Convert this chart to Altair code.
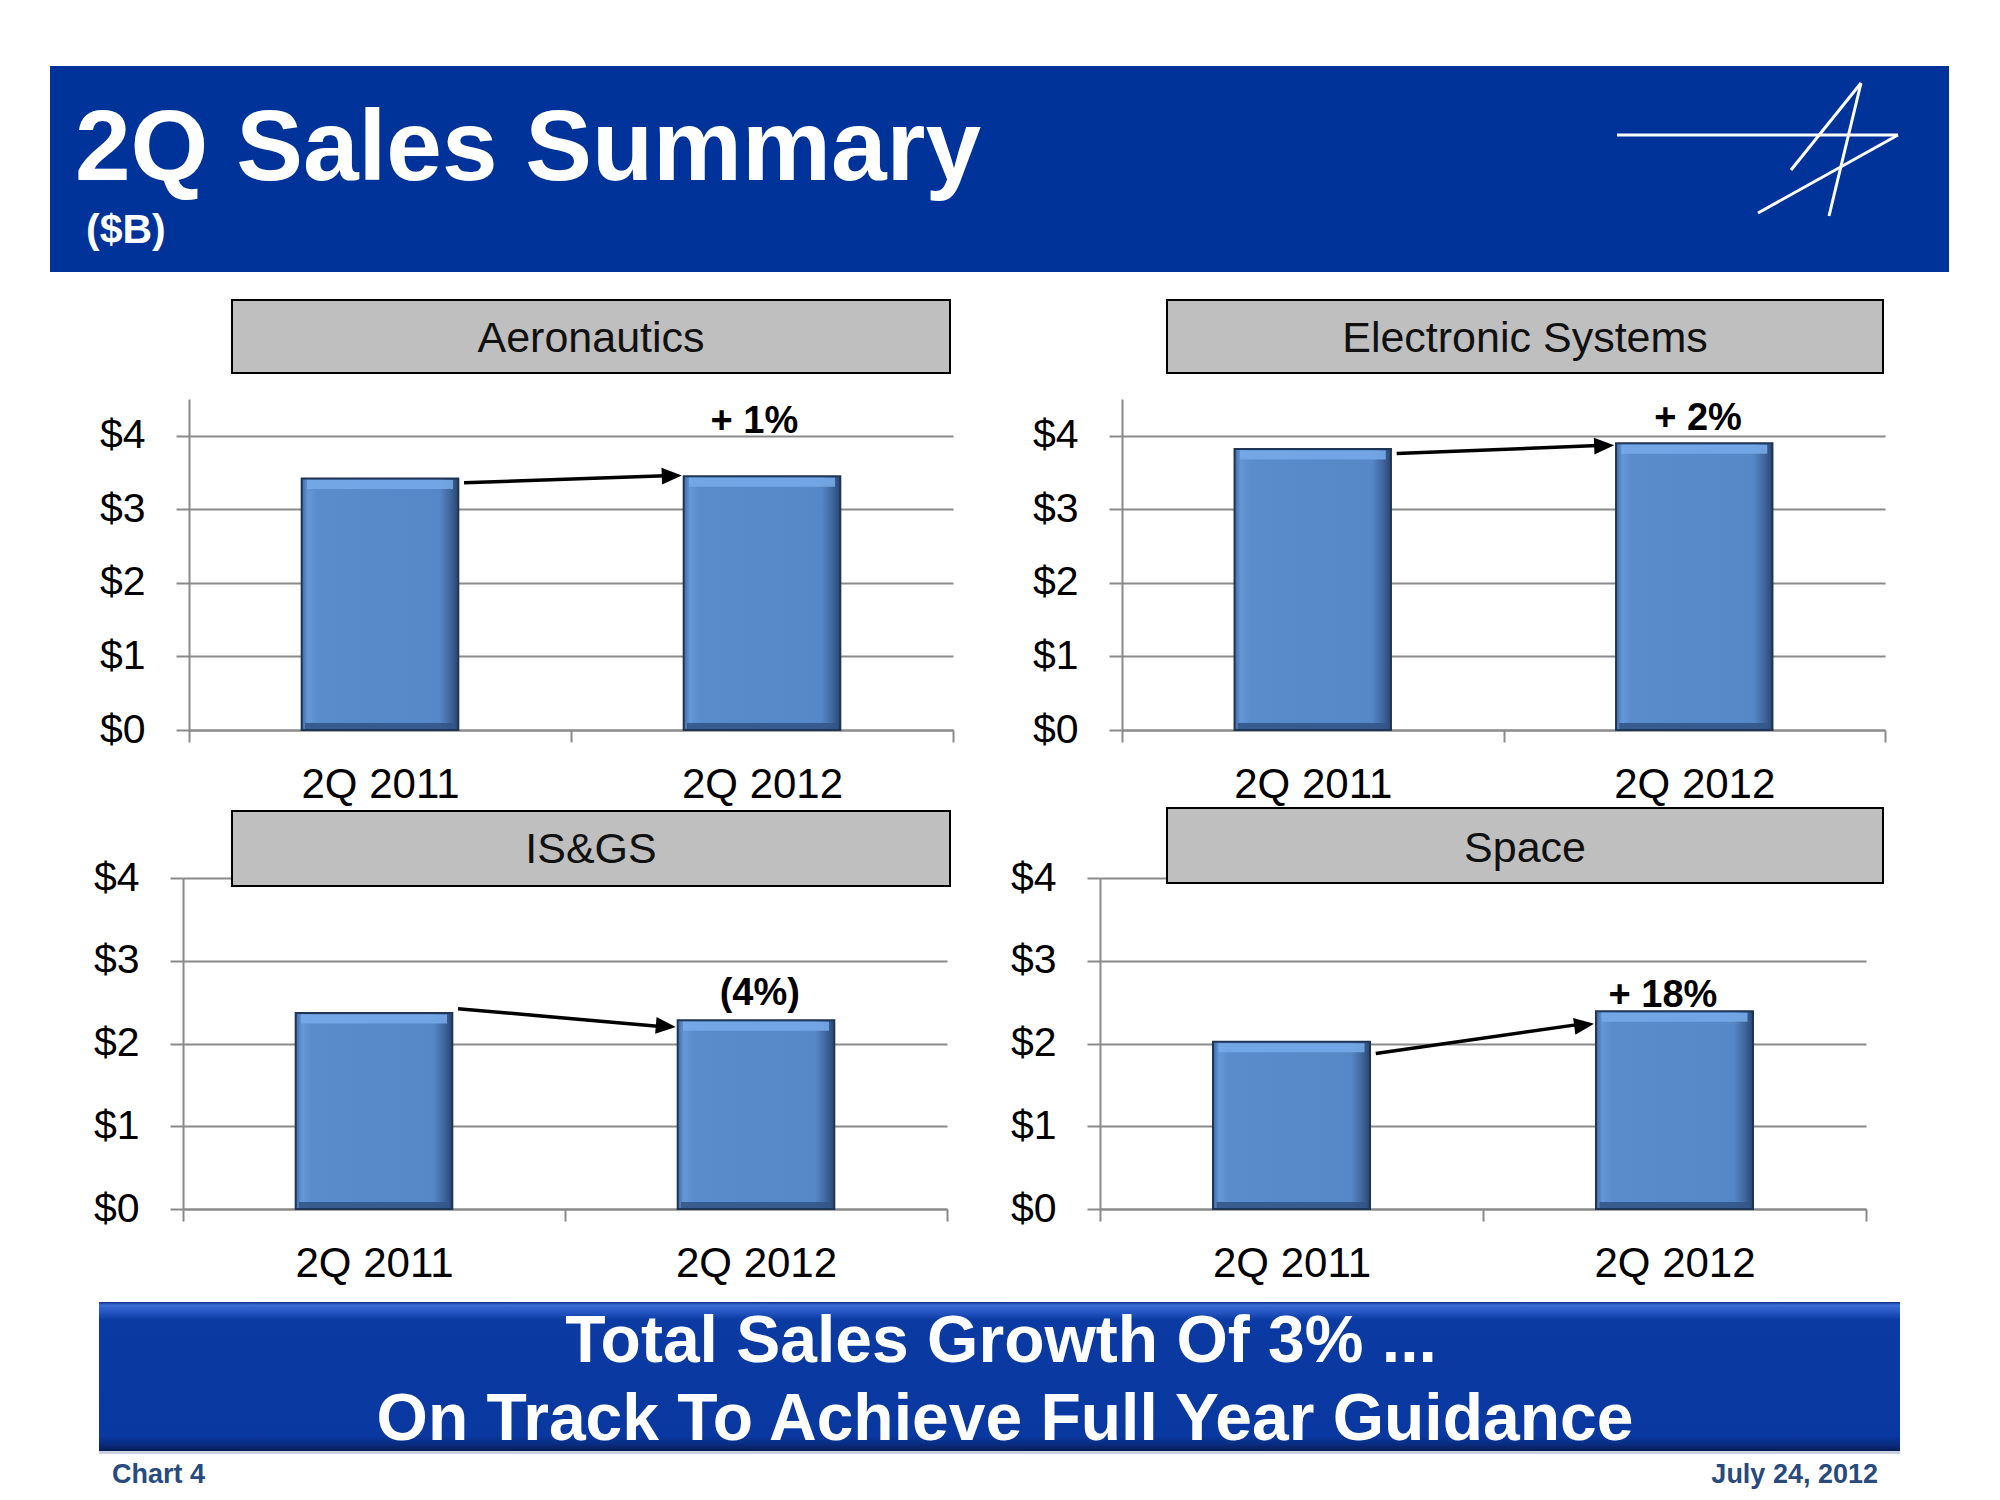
import math
import altair as alt
import pandas as pd

# ---------------- data ----------------
categories = ["2Q 2011", "2Q 2012"]
segments = ["Aeronautics", "Electronic Systems", "IS&GS", "Space"]
sales_2q2011 = [3.42, 3.82, 2.37, 2.02]
sales_2q2012 = [3.45, 3.90, 2.28, 2.39]
change_labels = ["+ 1%", "+ 2%", "(4%)", "+ 18%"]
arrow_from = [3.36, 3.76, 2.42, 1.88]
arrow_to = [3.46, 3.87, 2.20, 2.24]
label_level = [4.04, 4.08, 2.47, 2.44]
y_ticks = [0, 1, 2, 3, 4]

title_text = "2Q Sales Summary"
subtitle_text = "($B)"
footer_lines = ["Total Sales Growth Of 3% ...", "On Track To Achieve Full Year Guidance"]
footer_left = "Chart 4"
footer_right = "July 24, 2012"

# ---------------- styling / layout ----------------
FONT = "Liberation Sans"
GRID = "#8a8a8a"
HEADER_BLUE = "#003399"

LAYOUT = [
    dict(w=764, h=331, ymax=4.5, box=(43, 761, -99, -26), tb=-47, lx=1.48),
    dict(w=763, h=331, ymax=4.5, box=(45, 761, -99, -26), tb=-47, lx=1.51),
    dict(w=764, h=331, ymax=4.0, box=(49, 767, -67, 8), tb=-15, lx=1.51),
    dict(w=766, h=331, ymax=4.0, box=(67, 783, -70, 5), tb=-16, lx=1.47),
]
ARROW_X0, ARROW_END, ARROW_TIP = 0.72, 1.265, 1.29

bar_fill = alt.LinearGradient(
    gradient="linear", x1=0, x2=1, y1=0, y2=0,
    stops=[
        alt.GradientStop(offset=0, color="#3f6aa3"),
        alt.GradientStop(offset=0.04, color="#6598d8"),
        alt.GradientStop(offset=0.1, color="#5a8bcb"),
        alt.GradientStop(offset=0.88, color="#5687c7"),
        alt.GradientStop(offset=0.95, color="#3f659c"),
        alt.GradientStop(offset=1, color="#2a466f"),
    ],
)

footer_fill = alt.LinearGradient(
    gradient="linear", x1=0, x2=0, y1=0, y2=1,
    stops=[
        alt.GradientStop(offset=0, color="#0b2f86"),
        alt.GradientStop(offset=0.02, color="#3a6cd6"),
        alt.GradientStop(offset=0.07, color="#2455c0"),
        alt.GradientStop(offset=0.12, color="#0a3aa2"),
        alt.GradientStop(offset=0.9, color="#0938a0"),
        alt.GradientStop(offset=0.95, color="#0a2d84"),
        alt.GradientStop(offset=1, color="#061d55"),
    ],
)


def frame(top, bottom):
    # invisible rectangle that fixes the vertical extent of a row
    return alt.Chart(pd.DataFrame({"v": [0]})).mark_rect(opacity=0).encode(
        x=alt.value(0), x2=alt.value(10), y=alt.value(top), y2=alt.value(bottom))


def header_layers():
    hdf = pd.DataFrame({"title": [title_text], "sub": [subtitle_text]})
    hb = alt.Chart(hdf)
    band = hb.mark_rect(fill=HEADER_BLUE).encode(
        x=alt.value(-139), x2=alt.value(1760), y=alt.value(-333), y2=alt.value(-127))
    title = hb.mark_text(font=FONT, fontWeight="bold", fontSize=100, color="white",
                         align="left", baseline="alphabetic").encode(
        x=alt.value(-114), y=alt.value(-219), text="title:N")
    sub = hb.mark_text(font=FONT, fontWeight="bold", fontSize=41, color="white",
                       align="left", baseline="alphabetic").encode(
        x=alt.value(-103), y=alt.value(-156), text="sub:N")
    segs = [(1428, -264, 1709, -264), (1709, -264, 1569, -186),
            (1672, -316, 1640, -183), (1672, -316, 1602, -229)]
    logo = [hb.mark_rule(color="white", strokeWidth=3).encode(
        x=alt.value(a), y=alt.value(b), x2=alt.value(c), y2=alt.value(d))
        for a, b, c, d in segs]
    return [frame(-391, 470), band, title, sub] + logo


def footer_layers():
    fdf = pd.DataFrame({"l1": [footer_lines[0]], "l2": [footer_lines[1]],
                        "left": [footer_left], "right": [footer_right]})
    fb = alt.Chart(fdf)
    band = fb.mark_rect(fill=footer_fill).encode(
        x=alt.value(-84), x2=alt.value(1717), y=alt.value(424), y2=alt.value(573))
    strip = fb.mark_rect(fill="#c9d0de").encode(
        x=alt.value(-84), x2=alt.value(1717), y=alt.value(573), y2=alt.value(576))
    l1 = fb.mark_text(font=FONT, fontWeight="bold", fontSize=66, color="white",
                      align="center", baseline="alphabetic").encode(
        x=alt.value(818), y=alt.value(484), text="l1:N")
    l2 = fb.mark_text(font=FONT, fontWeight="bold", fontSize=66, color="white",
                      align="center", baseline="alphabetic").encode(
        x=alt.value(822), y=alt.value(562), text="l2:N")
    left = fb.mark_text(font=FONT, fontWeight="bold", fontSize=27, color="#284a7c",
                        align="left", baseline="alphabetic").encode(
        x=alt.value(-71), y=alt.value(605), text="left:N")
    right = fb.mark_text(font=FONT, fontWeight="bold", fontSize=27, color="#284a7c",
                         align="right", baseline="alphabetic").encode(
        x=alt.value(1695), y=alt.value(605), text="right:N")
    return [frame(-100, 614), band, strip, l1, l2, left, right]


def y_axis():
    return alt.Axis(title=None, values=y_ticks, labelExpr="'$' + datum.value",
                    grid=True, gridColor=GRID, gridWidth=2,
                    domainColor=GRID, domainWidth=2,
                    tickColor=GRID, tickWidth=2, tickSize=13,
                    labelFont=FONT, labelFontSize=41, labelColor="black",
                    labelPadding=31)


def panel(i, extra=()):
    L = LAYOUT[i]
    df = pd.DataFrame({"period": categories,
                       "sales": [sales_2q2011[i], sales_2q2012[i]]})
    yscale = alt.Scale(domain=[0, L["ymax"]], nice=False, zero=True)
    xband = alt.Scale(domain=categories, paddingInner=0, paddingOuter=0)
    enc_x = alt.X(
        "period:N", scale=xband, sort=categories,
        axis=alt.Axis(title=None, labelAngle=0, tickBand="extent", grid=False,
                      tickColor=GRID, tickWidth=2, tickSize=12,
                      domainColor=GRID, domainWidth=2,
                      labelFont=FONT, labelFontSize=42, labelColor="black",
                      labelPadding=22),
    )
    enc_y = alt.Y("sales:Q", scale=yscale, axis=y_axis())
    base = alt.Chart(df)
    bars = base.mark_bar(fill=bar_fill, stroke="#1f3556", strokeWidth=2,
                         width=alt.RelativeBandSize(0.41)).encode(x=enc_x, y=enc_y)
    hi = base.mark_tick(color="#76a8e8", thickness=9, size=146, yOffset=6,
                        opacity=0.9).encode(x=enc_x, y=enc_y)
    lo = base.mark_tick(color="#33568a", thickness=6, size=150, yOffset=-4,
                        opacity=0.9).encode(
        x=enc_x, y=alt.YDatum(datum=0, scale=yscale, axis=y_axis()))

    bdf = pd.DataFrame({"segment": [segments[i]]})
    x1, x2, y1, y2 = L["box"]
    box = alt.Chart(bdf).mark_rect(fill="#bfbfbf", stroke="black", strokeWidth=2).encode(
        x=alt.value(x1), x2=alt.value(x2), y=alt.value(y1), y2=alt.value(y2))
    box_text = alt.Chart(bdf).mark_text(font=FONT, fontSize=43, align="center",
                                        baseline="alphabetic", color="#111111").encode(
        x=alt.value((x1 + x2) / 2), y=alt.value(L["tb"]), text="segment:N")

    ppu = L["h"] / L["ymax"]
    ppb = L["w"] / 2
    dxp = (ARROW_TIP - ARROW_X0) * ppb
    dyp = (arrow_to[i] - arrow_from[i]) * ppu
    ang = (-math.degrees(math.atan2(dyp, dxp))) % 360

    adf = pd.DataFrame({"x0": [ARROW_X0], "x1": [ARROW_END], "xt": [ARROW_TIP],
                        "y0": [arrow_from[i]], "y1": [arrow_to[i]],
                        "lx": [L["lx"]], "ly": [label_level[i]],
                        "label": [change_labels[i]]})
    xlin = alt.Scale(domain=[0, 2], nice=False, zero=False)
    arrow_line = alt.Chart(adf).mark_rule(color="black", strokeWidth=3.5).encode(
        x=alt.X("x0:Q", scale=xlin, axis=None), x2="x1:Q",
        y=alt.Y("y0:Q", scale=yscale, axis=y_axis()), y2="y1:Q")
    head = alt.Chart(adf).mark_point(shape="M0,0L-1,-0.42L-1,0.42Z", filled=True,
                                     size=1600, angle=ang, color="black",
                                     opacity=1, strokeWidth=0).encode(
        x=alt.X("xt:Q", scale=xlin, axis=None),
        y=alt.Y("y1:Q", scale=yscale, axis=y_axis()))
    label = alt.Chart(adf).mark_text(font=FONT, fontWeight="bold", fontSize=38,
                                     align="center", baseline="alphabetic",
                                     color="black").encode(
        x=alt.X("lx:Q", scale=xlin, axis=None),
        y=alt.Y("ly:Q", scale=yscale, axis=y_axis()),
        text="label:N")

    under = alt.layer(*extra, bars, hi, lo, box, box_text)
    over = alt.layer(arrow_line, head, label)
    return alt.layer(under, over).resolve_scale(x="independent").properties(
        width=L["w"], height=L["h"])


def spacer(w):
    return alt.Chart(pd.DataFrame({"v": [0]})).mark_point(opacity=0, size=1).encode(
        x=alt.value(5), y=alt.value(5)).properties(width=w, height=10)


row1 = alt.hconcat(spacer(12), panel(0, header_layers()), panel(1),
                   spacing=169, bounds="flush")
row2 = alt.hconcat(spacer(22), panel(2, footer_layers()), panel(3),
                   spacing=153, bounds="flush")

chart = alt.vconcat(row1, row2, spacing=-91, bounds="full").properties(
    padding=0).configure_view(stroke=None)

chart.save("out.html", embed_options={"renderer": "svg", "actions": False})
